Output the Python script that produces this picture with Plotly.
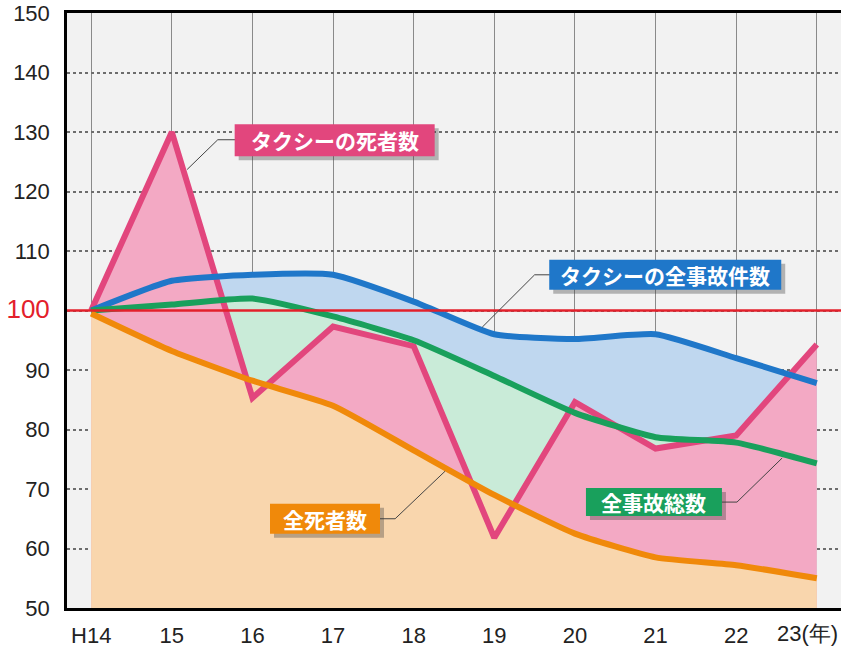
import plotly.graph_objects as go

# Index values (H14 = 100)
years = ["H14", "15", "16", "17", "18", "19", "20", "21", "22", "23"]
year_unit = "(年)"
taxi_deaths = [100, 130, 85.3, 97.3, 94.0, 61.8, 84.6, 76.8, 79.0, 94.3]
taxi_accidents = [100, 105.0, 106.0, 106.0, 101.5, 96.0, 95.2, 96.0, 92.0, 87.8]
all_accidents = [100, 101.0, 102.0, 99.0, 95.0, 89.0, 82.8, 78.7, 77.8, 74.3]
all_deaths = [99.5, 93.2, 88.2, 84.0, 76.5, 69.0, 62.5, 58.5, 57.2, 55.0]

x = list(range(len(years)))

PINK, PINK_FILL = "#e2467d", "#f3a9c4"
BLUE, BLUE_FILL = "#1f77c9", "#bfd7ef"
GREEN, GREEN_FILL = "#19a05c", "#c9ebd8"
ORANGE, ORANGE_FILL = "#f0890a", "#f9d6ad"

fig = go.Figure()

# filled areas, back to front
fills = [
    (taxi_accidents, BLUE_FILL, "spline"),
    (all_accidents, GREEN_FILL, "spline"),
    (taxi_deaths, PINK_FILL, "linear"),
    (all_deaths, ORANGE_FILL, "spline"),
]
for ys, col, shape in fills:
    fig.add_trace(go.Scatter(
        x=x, y=ys, mode="lines", fill="tozeroy", fillcolor=col,
        line=dict(width=0, color=col, shape=shape, smoothing=0.5),
        hoverinfo="skip", showlegend=False,
    ))

# reference level 100
fig.add_shape(type="line", xref="paper", x0=0, x1=1, yref="y", y0=100, y1=100,
              line=dict(color="#e3202b", width=2.5), layer="above")

# series lines
lines = [
    ("タクシーの死者数", taxi_deaths, PINK, "linear"),
    ("タクシーの全事故件数", taxi_accidents, BLUE, "spline"),
    ("全事故総数", all_accidents, GREEN, "spline"),
    ("全死者数", all_deaths, ORANGE, "spline"),
]
for name, ys, col, shape in lines:
    fig.add_trace(go.Scatter(
        x=x, y=ys, mode="lines", name=name,
        line=dict(width=6, color=col, shape=shape, smoothing=0.5),
        showlegend=False,
    ))

# callout labels: box centre, box size in px, leader line points
callouts = [
    ("タクシーの死者数", PINK, 3.02, 128.6, 200, 32, [(1.80, 128.7), (1.57, 128.7), (1.19, 123.7)]),
    ("タクシーの全事故件数", BLUE, 7.12, 106.0, 232, 30, [(5.69, 106.0), (5.50, 106.0), (4.85, 97.2)]),
    ("全事故総数", GREEN, 6.98, 67.8, 136, 28, [(7.82, 67.8), (8.01, 67.8), (8.57, 75.2)]),
    ("全死者数", ORANGE, 2.90, 65.0, 110, 30, [(3.58, 65.0), (3.77, 65.0), (4.39, 73.0)]),
]
for text, col, cx, cy, w, h, pts in callouts:
    for (x0, y0), (x1, y1) in zip(pts[:-1], pts[1:]):
        fig.add_shape(type="line", x0=x0, y0=y0, x1=x1, y1=y1,
                      line=dict(color="#444444", width=1), layer="above")
    # drop shadow, then box
    fig.add_shape(type="rect", xsizemode="pixel", ysizemode="pixel",
                  xanchor=cx, yanchor=cy,
                  x0=-w / 2 + 4, x1=w / 2 + 4, y0=-h / 2 - 4, y1=h / 2 - 4,
                  fillcolor="rgba(60,60,60,0.35)", line=dict(width=0), layer="above")
    fig.add_shape(type="rect", xsizemode="pixel", ysizemode="pixel",
                  xanchor=cx, yanchor=cy,
                  x0=-w / 2, x1=w / 2, y0=-h / 2, y1=h / 2,
                  fillcolor=col, line=dict(width=0), layer="above")
    fig.add_annotation(x=cx, y=cy, text=f"<b>{text}</b>", showarrow=False,
                       font=dict(size=21, color="white", family="Noto Sans CJK JP"))

# last category label carries the year unit; kept inside the right edge
tick_labels = years[:-1] + [""]
fig.add_annotation(x=1, xref="paper", y=0, yref="paper", yanchor="top",
                   xanchor="right", xshift=-1, yshift=-11,
                   text=years[-1] + year_unit, showarrow=False,
                   font=dict(size=22, color="#222222"))

tick_vals = list(range(50, 151, 10))
tick_text = [("<span style='font-size:26px;color:#e3202b'>100</span>" if v == 100 else str(v))
             for v in tick_vals]

fig.update_layout(
    width=841, height=648,
    margin=dict(l=67, r=0, t=13, b=35),
    paper_bgcolor="white",
    plot_bgcolor="#f2f2f2",
    font=dict(family="Liberation Sans, Arial, sans-serif", size=22, color="#222222"),
    xaxis=dict(
        range=[-0.3, 9.3], tickmode="array", tickvals=x, ticktext=tick_labels,
        showgrid=True, gridcolor="#8a8a8a", gridwidth=1,
        showline=True, linecolor="black", linewidth=2.5, mirror=True,
        ticks="", zeroline=False, ticklabelstandoff=6,
    ),
    yaxis=dict(
        range=[50, 150], tickmode="array", tickvals=tick_vals, ticktext=tick_text,
        showgrid=True, gridcolor="#6d6d6d", gridwidth=1.5, griddash="dot",
        showline=True, linecolor="black", linewidth=2.5,
        ticks="", zeroline=False, ticklabelstandoff=10,
    ),
)

fig.write_html("out.html")
